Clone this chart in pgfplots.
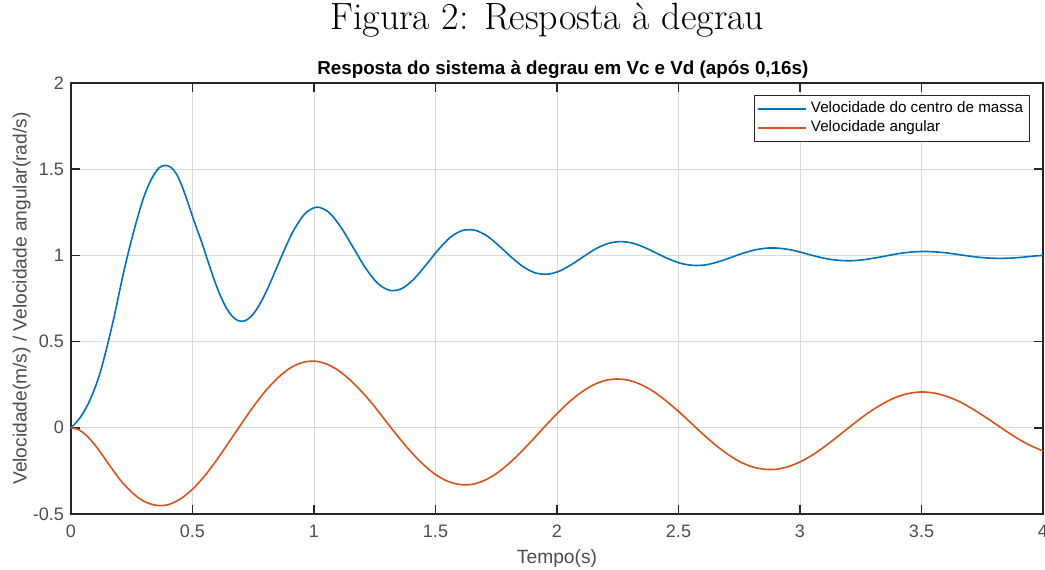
\documentclass[border=0pt]{standalone}
\usepackage{pgfplots}
\pgfplotsset{compat=1.18}
\usepackage{fontspec}
\newfontfamily\arial{Liberation Sans}
\definecolor{mblue}{HTML}{0072BD}
\definecolor{morange}{HTML}{D95319}
\definecolor{axgray}{HTML}{262626}
\definecolor{tkgray}{HTML}{4D4D4D}

% velocidade do centro de massa (m/s)
\pgfplotstableread{
t v
0 0
0.03 0.045
0.06 0.11
0.09 0.2
0.12 0.32
0.15 0.48
0.18 0.66
0.21 0.86
0.24 1.04
0.27 1.2
0.30 1.34
0.33 1.44
0.36 1.505
0.385 1.522
0.41 1.512
0.435 1.47
0.46 1.39
0.485 1.29
0.51 1.185
0.537 1.08
0.562 0.973
0.587 0.868
0.612 0.775
0.637 0.701
0.662 0.649
0.687 0.622
0.712 0.619
0.737 0.640
0.762 0.683
0.787 0.743
0.812 0.816
0.837 0.897
0.862 0.980
0.912 1.134
0.962 1.241
1.012 1.280
1.062 1.249
1.112 1.161
1.162 1.044
1.212 0.927
1.262 0.838
1.312 0.797
1.362 0.808
1.412 0.864
1.462 0.947
1.512 1.034
1.562 1.106
1.612 1.145
1.662 1.146
1.712 1.113
1.762 1.055
1.812 0.990
1.862 0.933
1.912 0.898
1.962 0.891
2.012 0.910
2.062 0.949
2.112 0.996
2.162 1.040
2.212 1.070
2.262 1.080
2.312 1.071
2.362 1.045
2.412 1.011
2.462 0.978
2.512 0.953
2.562 0.942
2.612 0.945
2.662 0.962
2.712 0.986
2.762 1.011
2.812 1.031
2.862 1.042
2.912 1.042
2.962 1.032
3.012 1.015
3.062 0.996
3.112 0.980
3.162 0.971
3.212 0.969
3.262 0.975
3.312 0.986
3.362 0.999
3.412 1.012
3.462 1.020
3.512 1.023
3.562 1.020
3.612 1.013
3.662 1.003
3.712 0.993
3.762 0.986
3.812 0.983
3.862 0.984
3.912 0.989
3.962 0.996
4.000 1.000
}\vc

% velocidade angular (rad/s)
\pgfplotstableread{
t w
0 0
0.03 -0.01
0.06 -0.04
0.09 -0.085
0.12 -0.14
0.15 -0.2
0.18 -0.26
0.21 -0.315
0.24 -0.36
0.27 -0.398
0.30 -0.426
0.33 -0.443
0.36 -0.451
0.40 -0.446
0.45 -0.413
0.50 -0.356
0.55 -0.279
0.60 -0.186
0.65 -0.083
0.70 0.021
0.75 0.122
0.80 0.213
0.85 0.288
0.90 0.345
0.95 0.378
1.00 0.387
1.05 0.371
1.10 0.333
1.15 0.276
1.20 0.204
1.25 0.122
1.30 0.031
1.35 -0.058
1.40 -0.141
1.45 -0.213
1.50 -0.271
1.55 -0.310
1.60 -0.329
1.65 -0.328
1.70 -0.306
1.75 -0.266
1.80 -0.210
1.85 -0.143
1.90 -0.069
1.95 0.008
2.00 0.082
2.05 0.150
2.10 0.206
2.15 0.249
2.20 0.275
2.25 0.283
2.30 0.274
2.35 0.248
2.40 0.208
2.45 0.155
2.50 0.095
2.55 0.030
2.60 -0.036
2.65 -0.097
2.70 -0.151
2.75 -0.195
2.80 -0.225
2.85 -0.240
2.90 -0.241
2.95 -0.226
3.00 -0.198
3.05 -0.159
3.10 -0.110
3.15 -0.056
3.20 0.000
3.25 0.055
3.30 0.105
3.35 0.147
3.40 0.180
3.45 0.200
3.50 0.208
3.55 0.202
3.60 0.184
3.65 0.156
3.70 0.118
3.75 0.074
3.80 0.027
3.85 -0.021
3.90 -0.066
3.95 -0.104
4.00 -0.134
}\wang

\begin{document}
\begin{tikzpicture}
\useasboundingbox (-35.5pt,-27.5pt) rectangle (487pt,257pt);
\begin{axis}[
    at={(0,0)}, anchor=south west,
    scale only axis,
    width=486pt, height=215.5pt,
    xmin=0, xmax=4, ymin=-0.5, ymax=2,
    xtick={0,0.5,1,1.5,2,2.5,3,3.5,4},
    ytick={-0.5,0,0.5,1,1.5,2},
    tick align=inside, xtick pos=both, ytick pos=both,
    major tick length=4.5pt,
    axis line style={axgray, line width=0.75pt},
    tick style={axgray, line width=0.75pt},
    grid=major,
    major grid style={black!15, line width=0.5pt},
    /pgf/number format/assume math mode=true,
    ticklabel style={font=\arial\fontsize{9}{10}\selectfont, text=tkgray},
    xticklabel style={yshift=-2pt},
    xlabel={Tempo(s)},
    ylabel={Velocidade(m/s) / Velocidade angular(rad/s)},
    label style={font=\arial\fontsize{9.6}{12}\selectfont, text=tkgray},
    xlabel style={at={(axis description cs:0.5,-0.0672)}, anchor=north},
    ylabel style={at={(axis description cs:-0.0344,0.5)}, anchor=south},
    title={Resposta do sistema à degrau em Vc e Vd (após 0,16s)},
    title style={font=\arial\bfseries\fontsize{9.4}{11}\selectfont,
        at={(axis description cs:0.506,1)}, anchor=base, yshift=-1.5pt},
    legend style={at={(rel axis cs:0.9866,0.972)}, anchor=north east,
        draw=axgray, line width=0.5pt, fill=white,
        font=\arial\fontsize{7.6}{9}\selectfont, text=black,
        inner sep=1.2pt, row sep=-1.5pt},
    legend cell align=left,
    clip=false,
]
\addplot[mblue, line width=0.8pt, smooth,
    legend image code/.code={\draw[mblue, line width=0.8pt] (0pt,0pt) -- (24pt,0pt);}]
    table[x=t, y=v] {\vc};
\addlegendentry{Velocidade do centro de massa}
\addplot[morange, line width=0.8pt, smooth,
    legend image code/.code={\draw[morange, line width=0.8pt] (0pt,0pt) -- (24pt,0pt);}]
    table[x=t, y=w] {\wang};
\addlegendentry{Velocidade angular}
\node[font=\fontsize{19}{22}\selectfont, anchor=base] at (axis description cs:0.49,1.123) {Figura 2: Resposta à degrau};
\end{axis}
\end{tikzpicture}
\end{document}
